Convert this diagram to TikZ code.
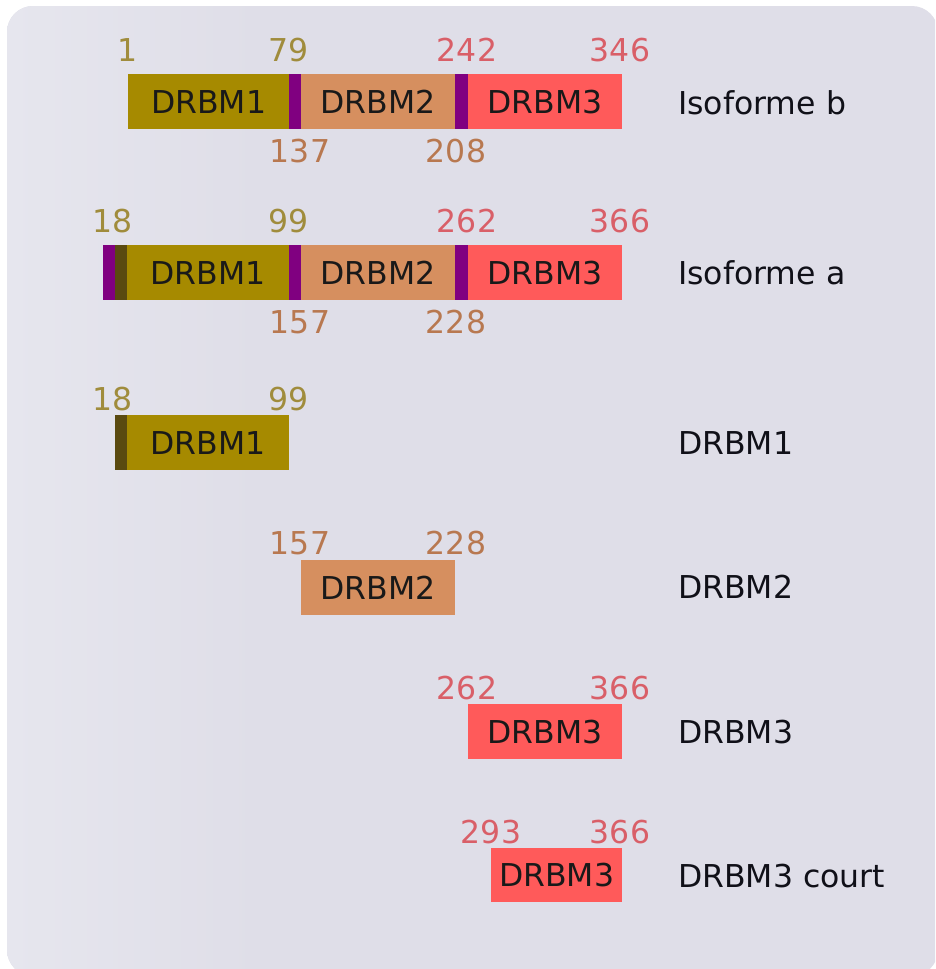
\documentclass[tikz,border=0pt]{standalone}
\usepackage{fontspec}
\setmainfont{DejaVu Sans}
\definecolor{bgc}{HTML}{DFDEE8}
\definecolor{bgl}{HTML}{E6E6EE}
\definecolor{goldc}{HTML}{A68A00}
\definecolor{oranc}{HTML}{D68F5F}
\definecolor{redc}{HTML}{FF5A5A}
\definecolor{purc}{HTML}{800080}
\definecolor{darkc}{HTML}{5A4A10}
\definecolor{goldt}{HTML}{A08C3C}
\definecolor{orant}{HTML}{B87850}
\definecolor{redt}{HTML}{D95F68}
\definecolor{labt}{HTML}{101018}
\tikzset{
  seg/.style={anchor=north west, inner sep=0pt, minimum height=55pt, font=\fontsize{31.5}{32}\selectfont, text=black!90},
  num/.style={inner sep=0pt, font=\fontsize{31.5}{32}\selectfont},
  lab/.style={anchor=west, inner sep=0pt, font=\fontsize{31.5}{32}\selectfont, text=labt},
}
\begin{document}
\begin{tikzpicture}[x=1pt,y=-1pt]
\useasboundingbox (0,0) rectangle (935,969);
\fill[white] (0,0) rectangle (935,969);
\begin{scope}
\clip (0,0) rectangle (935,969);
\fill[bgc, rounded corners=26pt] (7,6) rectangle (938,976);
\clip[rounded corners=26pt] (7,6) rectangle (938,976);
\shade[left color=bgl, right color=bgc] (7,6) rectangle (260,976);
\end{scope}

% Isoforme b
\node[seg, fill=goldc, minimum width=161pt] (b1) at (128,74) {DRBM1};
\node[seg, fill=purc, minimum width=12pt] (bl1) at (289,74) {};
\node[seg, fill=oranc, minimum width=154pt] (b2) at (301,74) {DRBM2};
\node[seg, fill=purc, minimum width=13pt] (bl2) at (455,74) {};
\node[seg, fill=redc, minimum width=154pt] (b3) at (468,74) {DRBM3};
\node[num, text=goldt] (nb1) at (128,50) {1};
\node[num, text=goldt] (nb79) at (289,50) {79};
\node[num, text=redt] (nb242) at (467,50) {242};
\node[num, text=redt] (nb346) at (620,50) {346};
\node[num, text=orant] (nb137) at (300,151) {137};
\node[num, text=orant] (nb208) at (456,151) {208};
\node[lab] (lb) at (678,103) {Isoforme b};

% Isoforme a
\node[seg, fill=purc, minimum width=12pt] (a0) at (103,245) {};
\node[seg, fill=darkc, minimum width=12pt] (ad) at (115,245) {};
\node[seg, fill=goldc, minimum width=162pt] (a1) at (127,245) {DRBM1};
\node[seg, fill=purc, minimum width=12pt] (al1) at (289,245) {};
\node[seg, fill=oranc, minimum width=154pt] (a2) at (301,245) {DRBM2};
\node[seg, fill=purc, minimum width=13pt] (al2) at (455,245) {};
\node[seg, fill=redc, minimum width=154pt] (a3) at (468,245) {DRBM3};
\node[num, text=goldt] (na18) at (113,221) {18};
\node[num, text=goldt] (na99) at (289,221) {99};
\node[num, text=redt] (na262) at (467,221) {262};
\node[num, text=redt] (na366) at (620,221) {366};
\node[num, text=orant] (na157) at (300,322) {157};
\node[num, text=orant] (na228) at (456,322) {228};
\node[lab] (la) at (678,273) {Isoforme a};

% DRBM1
\node[seg, fill=darkc, minimum width=12pt] (d1d) at (115,415) {};
\node[seg, fill=goldc, minimum width=162pt] (d1) at (127,415) {DRBM1};
\node[num, text=goldt] (n1a) at (113,399) {18};
\node[num, text=goldt] (n1b) at (289,399) {99};
\node[lab] (l1) at (678,443) {DRBM1};

% DRBM2
\node[seg, fill=oranc, minimum width=154pt] (d2) at (301,560) {DRBM2};
\node[num, text=orant] (n2a) at (300,543) {157};
\node[num, text=orant] (n2b) at (456,543) {228};
\node[lab] (l2) at (678,587) {DRBM2};

% DRBM3
\node[seg, fill=redc, minimum width=154pt] (d3) at (468,704) {DRBM3};
\node[num, text=redt] (n3a) at (467,688) {262};
\node[num, text=redt] (n3b) at (620,688) {366};
\node[lab] (l3) at (678,732) {DRBM3};

% DRBM3 court
\node[seg, fill=redc, minimum width=131pt, minimum height=54pt] (d4) at (491,848) {DRBM3};
\node[num, text=redt] (n4a) at (491,832) {293};
\node[num, text=redt] (n4b) at (620,832) {366};
\node[lab] (l4) at (678,876) {DRBM3 court};
\end{tikzpicture}
\end{document}
